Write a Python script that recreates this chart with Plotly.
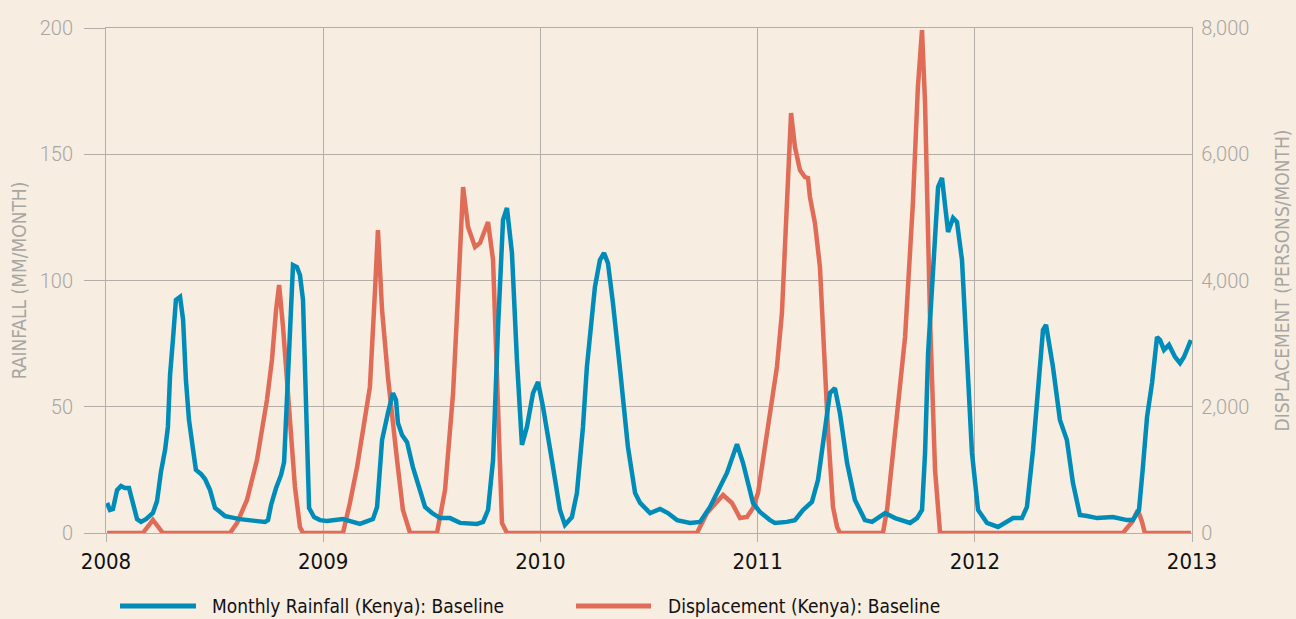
import plotly.graph_objects as go

# ---------------- data ----------------
years = [2008, 2009, 2010, 2011, 2012, 2013]
rain_ticks = [0, 50, 100, 150, 200]
disp_ticks = [0, 2000, 4000, 6000, 8000]
series_names = ["Monthly Rainfall (Kenya): Baseline", "Displacement (Kenya): Baseline"]
axis_titles = ["RAINFALL (MM/MONTH)", "DISPLACEMENT (PERSONS/MONTH)"]

# time (decimal years) and monthly rainfall (mm/month)
rain_t = [2008.005, 2008.018, 2008.032, 2008.051, 2008.069, 2008.087, 2008.106, 2008.129, 2008.143, 2008.161,
          2008.184, 2008.216, 2008.235, 2008.253, 2008.272, 2008.285, 2008.295, 2008.308, 2008.322, 2008.341,
          2008.355, 2008.368, 2008.382, 2008.401, 2008.414, 2008.437, 2008.456, 2008.479, 2008.502, 2008.520,
          2008.548, 2008.571, 2008.617, 2008.686, 2008.732, 2008.746, 2008.760, 2008.783, 2008.806, 2008.820,
          2008.829, 2008.838, 2008.847, 2008.861, 2008.879, 2008.893, 2008.907, 2008.916, 2008.925, 2008.935,
          2008.958, 2008.985, 2009.017, 2009.091, 2009.169, 2009.229, 2009.248, 2009.271, 2009.298, 2009.321,
          2009.335, 2009.344, 2009.363, 2009.386, 2009.413, 2009.469, 2009.501, 2009.538, 2009.584, 2009.630,
          2009.708, 2009.736, 2009.759, 2009.782, 2009.805, 2009.828, 2009.846, 2009.869, 2009.892, 2009.915,
          2009.938, 2009.966, 2009.989, 2010.012, 2010.053, 2010.090, 2010.113, 2010.145, 2010.168, 2010.196,
          2010.214, 2010.251, 2010.274, 2010.293, 2010.311, 2010.334, 2010.367, 2010.403, 2010.436, 2010.459,
          2010.505, 2010.551, 2010.587, 2010.629, 2010.689, 2010.735, 2010.781, 2010.827, 2010.859, 2010.905,
          2010.933, 2010.979, 2011.011, 2011.057, 2011.080, 2011.135, 2011.172, 2011.209, 2011.250, 2011.278,
          2011.310, 2011.333, 2011.356, 2011.379, 2011.412, 2011.448, 2011.494, 2011.527, 2011.587, 2011.633,
          2011.702, 2011.734, 2011.757, 2011.771, 2011.785, 2011.807, 2011.831, 2011.849, 2011.863, 2011.877,
          2011.900, 2011.918, 2011.941, 2011.964, 2011.987, 2012.015, 2012.056, 2012.107, 2012.139, 2012.176,
          2012.217, 2012.240, 2012.268, 2012.291, 2012.314, 2012.328, 2012.360, 2012.392, 2012.424, 2012.452,
          2012.484, 2012.517, 2012.563, 2012.636, 2012.701, 2012.728, 2012.756, 2012.774, 2012.793, 2012.816,
          2012.839, 2012.853, 2012.871, 2012.894, 2012.922, 2012.945, 2012.963, 2012.995]
rain_mm = [11.9, 9.1, 9.5, 17.0, 18.6, 17.8, 17.8, 9.9, 5.5, 4.4,
           5.5, 7.9, 12.7, 24.2, 32.9, 42.0, 62.6, 76.4, 92.3, 93.5,
           84.4, 60.6, 44.8, 32.9, 25.0, 23.4, 21.4, 17.0, 9.9, 8.7,
           6.7, 6.3, 5.5, 4.8, 4.4, 5.1, 11.1, 17.8, 23.0, 28.1,
           44.8, 64.6, 84.4, 106.1, 105.3, 102.2, 92.3, 60.6, 32.9, 9.9,
           6.3, 5.1, 4.8, 5.5, 3.6, 5.5, 10.3, 36.8, 47.5, 55.4,
           52.7, 43.6, 38.8, 36.0, 26.1, 10.3, 7.9, 5.9, 5.9, 4.0,
           3.6, 4.4, 9.1, 28.9, 81.6, 124.0, 128.7, 110.9, 68.5, 34.9,
           42.0, 55.4, 59.8, 49.9, 28.9, 9.1, 3.2, 6.3, 15.8, 42.0,
           65.7, 97.4, 108.1, 110.9, 106.9, 91.1, 64.6, 34.1, 15.8, 11.9,
           7.9, 9.5, 7.9, 5.1, 4.0, 4.4, 10.3, 18.2, 23.8, 35.2,
           27.7, 11.9, 8.3, 5.1, 4.0, 4.4, 5.1, 9.1, 12.3, 21.0,
           40.8, 55.4, 57.4, 47.5, 27.7, 13.1, 5.1, 4.4, 7.9, 5.9,
           4.0, 5.9, 9.1, 31.7, 71.3, 104.2, 137.0, 140.6, 129.1, 119.2,
           124.8, 123.2, 108.1, 71.3, 31.7, 9.1, 4.0, 2.4, 4.0, 5.9,
           5.9, 10.3, 32.9, 59.4, 80.4, 82.4, 65.7, 44.8, 36.8, 19.8,
           7.1, 6.7, 5.9, 6.3, 5.1, 5.1, 9.1, 26.1, 45.9, 59.4,
           77.6, 76.4, 72.5, 74.5, 69.7, 67.3, 69.7, 76.4]

# time (decimal years) and displacement (persons/month)
disp_t = [2008.005, 2008.170, 2008.216, 2008.262, 2008.571, 2008.603, 2008.649, 2008.695, 2008.741, 2008.764,
          2008.783, 2008.797, 2008.815, 2008.847, 2008.870, 2008.893, 2008.907, 2009.091, 2009.123, 2009.156,
          2009.183, 2009.215, 2009.238, 2009.252, 2009.271, 2009.298, 2009.340, 2009.367, 2009.400, 2009.524,
          2009.561, 2009.598, 2009.621, 2009.644, 2009.667, 2009.699, 2009.722, 2009.759, 2009.782, 2009.805,
          2009.823, 2009.846, 2010.721, 2010.767, 2010.841, 2010.882, 2010.919, 2010.951, 2010.979, 2011.002,
          2011.025, 2011.057, 2011.089, 2011.112, 2011.135, 2011.154, 2011.172, 2011.195, 2011.218, 2011.232,
          2011.241, 2011.264, 2011.287, 2011.301, 2011.324, 2011.347, 2011.366, 2011.379, 2011.577, 2011.596,
          2011.633, 2011.679, 2011.715, 2011.738, 2011.757, 2011.771, 2011.794, 2011.817, 2011.840, 2012.682,
          2012.724, 2012.751, 2012.770, 2012.783, 2012.995]
disp_persons = [0, 0, 206, 0, 0, 158, 523, 1156, 2107, 2740,
                3532, 3928, 3263, 1679, 729, 95, 0, 0, 475, 1045,
                1679, 2313, 3802, 4800, 3532, 2471, 1156, 364, 0, 0,
                681, 2218, 3802, 5481, 4847, 4530, 4594, 4926, 4324, 2218,
                158, 0, 0, 317, 602, 475, 238, 253, 396, 634,
                1156, 1901, 2629, 3485, 5069, 6653, 6114, 5750, 5639, 5623,
                5322, 4910, 4213, 3216, 1632, 412, 95, 0, 0, 364,
                1521, 3105, 5227, 7065, 7967, 6811, 3374, 998, 0, 0,
                174, 364, 174, 0, 0]

# ---------------- style ----------------
BG = "#f7ede1"
GRID = "#b3aea8"
BLUE = "#008cb9"
RED = "#e06c58"
LABEL_GRAY = "#a8a6a3"
NARROW = "Liberation Sans Narrow, DejaVu Sans Condensed, Arial Narrow, sans-serif"
LIGHT = "Roboto, Liberation Sans, sans-serif"

fig = go.Figure()

# displacement on primary (right) axis, rainfall on overlaid (left) axis so it draws on top
fig.add_trace(go.Scatter(x=disp_t, y=disp_persons, mode="lines", name=series_names[1],
                         line=dict(color=RED, width=4.5), yaxis="y", showlegend=False))
fig.add_trace(go.Scatter(x=rain_t, y=rain_mm, mode="lines", name=series_names[0],
                         line=dict(color=BLUE, width=4.5), yaxis="y2", showlegend=False))

fig.update_layout(
    width=1296, height=619,
    paper_bgcolor=BG, plot_bgcolor=BG,
    margin=dict(l=106, r=104, t=28, b=86, autoexpand=False),
    xaxis=dict(range=[years[0], years[-1]], tickvals=years, ticktext=[str(y) for y in years],
               showgrid=True, gridcolor=GRID, gridwidth=1.3,
               showline=True, linecolor=GRID, linewidth=1.3, mirror=True,
               ticks="outside", ticklen=8, tickcolor=GRID, tickwidth=1.3,
               tickfont=dict(family=NARROW, size=22, color="#111111"),
               zeroline=False, fixedrange=True, automargin=False),
    yaxis=dict(range=[0, 8000], tickvals=disp_ticks, tickformat=",", side="right",
               showgrid=True, gridcolor=GRID, gridwidth=1.3,
               showline=True, linecolor=GRID, linewidth=1.3, mirror=True,
               ticks="", ticklabelstandoff=4,
               tickfont=dict(family=LIGHT, size=20, color=LABEL_GRAY, weight=300),
               title=dict(text=axis_titles[1], standoff=27,
                          font=dict(family=NARROW, size=19, color=LABEL_GRAY)),
               zeroline=False, fixedrange=True, automargin=False),
    yaxis2=dict(range=[0, 200], tickvals=rain_ticks, side="left", overlaying="y",
                showgrid=False, showline=False,
                ticks="outside", ticklen=21, tickcolor=GRID, tickwidth=1.3,
                ticklabelstandoff=7,
                tickfont=dict(family=LIGHT, size=20, color=LABEL_GRAY, weight=300),
                title=dict(text=axis_titles[0], standoff=8,
                           font=dict(family=NARROW, size=19, color=LABEL_GRAY)),
                zeroline=False, fixedrange=True, automargin=False),
    showlegend=False,
)

# custom legend at bottom (line samples + labels)
plot_w = 1296 - 106 - 104
plot_h = 619 - 28 - 86
def px_x(p):
    return (p - 106) / plot_w
def px_y(p):
    return (533 - p) / plot_h

legend_items = [(series_names[0], BLUE, 120, 196, 210), (series_names[1], RED, 576, 651, 666)]
for name, col, x0, x1, xt in legend_items:
    fig.add_shape(type="line", xref="paper", yref="paper",
                  x0=px_x(x0), x1=px_x(x1), y0=px_y(606), y1=px_y(606),
                  line=dict(color=col, width=5))
    fig.add_annotation(xref="paper", yref="paper", x=px_x(xt), y=px_y(606),
                       text=name, showarrow=False, xanchor="left", yanchor="middle",
                       font=dict(family=NARROW, size=19, color="#111111"))

fig.write_html("out.html", config={"displayModeBar": False},
               post_script="document.body.style.margin='0';document.body.style.overflow='hidden';")
